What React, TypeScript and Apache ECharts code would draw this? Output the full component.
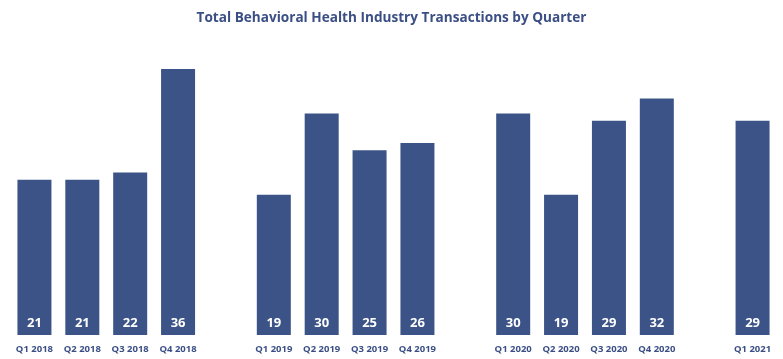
import React, { useEffect, useRef } from "react";
import * as echarts from "echarts";

const title = "Total Behavioral Health Industry Transactions by Quarter";
const categories = [
  "Q1 2018", "Q2 2018", "Q3 2018", "Q4 2018", "gap1",
  "Q1 2019", "Q2 2019", "Q3 2019", "Q4 2019", "gap2",
  "Q1 2020", "Q2 2020", "Q3 2020", "Q4 2020", "gap3",
  "Q1 2021",
];
const values: (number | string)[] = [
  21, 21, 22, 36, "-",
  19, 30, 25, 26, "-",
  30, 19, 29, 32, "-",
  29,
];

const FONT = "'Open Sans', 'Noto Sans', sans-serif";
const BLUE = "#3c5387";
const TEXT_BLUE = "#3b4f85";

export default function App() {
  const ref = useRef<HTMLDivElement>(null);
  useEffect(() => {
    if (!ref.current) return;
    document.body.style.margin = "0";
    const chart = echarts.init(ref.current, undefined, { renderer: "svg" });
    chart.setOption({
      animation: false,
      title: {
        text: title,
        left: "center",
        top: 4,
        textStyle: { fontFamily: FONT, fontSize: 13.6, fontWeight: "bold", color: TEXT_BLUE },
      },
      grid: { left: 10.5, right: 6.5, top: 39.5, bottom: 24, containLabel: false },
      xAxis: {
        type: "category",
        data: categories,
        axisLine: { show: false },
        axisTick: { show: false },
        axisLabel: {
          interval: 0,
          margin: 8,
          fontFamily: FONT,
          fontSize: 9.5,
          fontWeight: "bold",
          color: TEXT_BLUE,
          formatter: (v: string) => (v.startsWith("gap") ? "" : v),
        },
      },
      yAxis: {
        type: "value",
        min: 0,
        max: 40,
        show: false,
        splitLine: { show: false },
      },
      series: [
        {
          type: "bar",
          data: values,
          barWidth: 34,
          itemStyle: { color: BLUE },
          label: {
            show: true,
            position: "insideBottom",
            distance: 7,
            fontFamily: FONT,
            fontSize: 13,
            fontWeight: "bold",
            color: "#ffffff",
          },
        },
      ],
    });
    return () => chart.dispose();
  }, []);
  return <div ref={ref} style={{ position: "fixed", left: 0, top: 0, width: 783, height: 359 }} />;
}
